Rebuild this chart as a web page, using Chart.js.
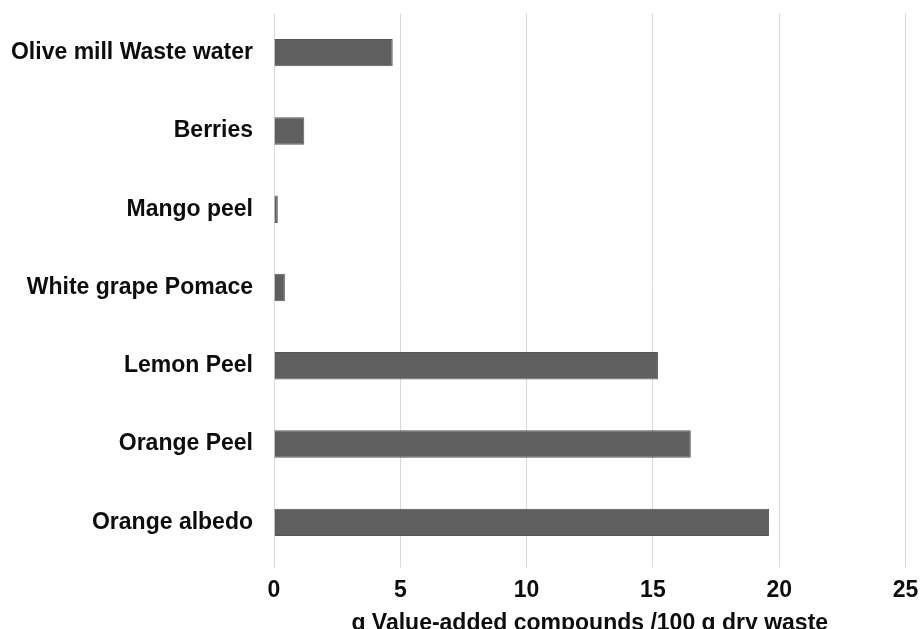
<!DOCTYPE html>
<html>
<head>
<meta charset="utf-8">
<script src="https://cdn.jsdelivr.net/npm/chart.js@4.4.3/dist/chart.umd.min.js"></script>
<style>
  html, body { margin: 0; padding: 0; background: #fff; }
  #wrap { width: 921px; height: 629px; }
</style>
</head>
<body>
<div id="wrap"><canvas id="chart" width="921" height="629"></canvas></div>
<script>
const categories = [
    'Olive mill Waste water',
    'Berries',
    'Mango peel',
    'White grape Pomace',
    'Lemon Peel',
    'Orange Peel',
    'Orange albedo'
];
const values = [4.7, 1.2, 0.15, 0.43, 15.2, 16.5, 19.6];
const xTicks = [0, 5, 10, 15, 20, 25];
const xTitle = 'g Value-added compounds /100 g dry waste';

const labelFont = { family: 'Liberation Sans, Arial, sans-serif', size: 23, weight: 'bold' };
const textColor = '#0d0d0d';
const gridColor = '#d9d9d9';

const ctx = document.querySelector('#chart');

new Chart(ctx, {
    type: 'bar',
    data: {
        labels: categories,
        datasets: [{
            data: values,
            backgroundColor: '#5f5f5f',
            borderColor: '#555555',
            borderWidth: 1,
            barPercentage: 0.35,
            categoryPercentage: 1
        }]
    },
    options: {
        indexAxis: 'y',
        responsive: false,
        animation: false,
        layout: { padding: { top: 13.5, right: 15.5, bottom: 0, left: 0 } },
        plugins: {
            legend: { display: false },
            tooltip: { enabled: false }
        },
        scales: {
            x: {
                min: 0,
                max: 25,
                afterBuildTicks: (scale) => {
                    scale.ticks = xTicks.map(v => ({ value: v }));
                },
                afterFit: (scale) => {
                    scale.height = 629 - 561.5;
                    scale.paddingLeft = 0;
                    scale.paddingRight = 0;
                },
                border: { display: false },
                grid: {
                    color: gridColor,
                    lineWidth: 1,
                    drawTicks: true,
                    tickLength: 6
                },
                ticks: {
                    color: textColor,
                    font: labelFont,
                    padding: 9,
                    maxRotation: 0
                },
                title: {
                    display: true,
                    text: xTitle,
                    color: textColor,
                    font: labelFont,
                    padding: { top: 0, bottom: -8 }
                }
            },
            y: {
                afterFit: (scale) => {
                    scale.width = 274;
                    scale.paddingTop = 0;
                    scale.paddingBottom = 0;
                },
                border: { display: false },
                grid: { display: false },
                ticks: {
                    color: textColor,
                    font: labelFont,
                    padding: 13
                }
            }
        }
    }
});
</script>
</body>
</html>
